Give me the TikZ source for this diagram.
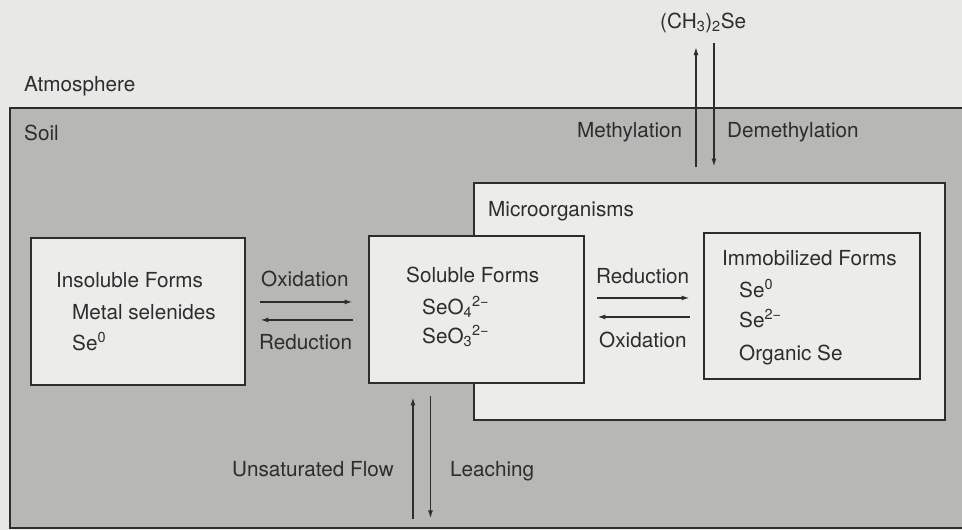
\documentclass[tikz,border=0pt]{standalone}
\usepackage{fontspec}
\setmainfont{TeX Gyre Heros}
\usetikzlibrary{arrows.meta}
\definecolor{paper}{RGB}{232,232,230}
\definecolor{soilgrey}{RGB}{183,183,181}
\definecolor{boxfill}{RGB}{236,236,234}
\definecolor{ink}{RGB}{45,45,45}
\begin{document}
\begin{tikzpicture}[x=1pt,y=-1pt,
  font=\fontsize{20.7}{24}\selectfont,
  region/.style={draw=ink, line width=1.9pt, rectangle, inner sep=0pt, anchor=north west},
  lbl/.style={anchor=base west, inner sep=0pt, text=ink},
  flow/.style={draw=ink, line width=1.7pt, -{Latex[length=8.5pt,width=5pt]}}]
% page
\useasboundingbox (0,0) rectangle (962,530);
\fill[paper] (0,0) rectangle (962,530);
% soil compartment and boxes
\node[region, fill=soilgrey, minimum width=970pt, minimum height=420pt] (soil) at (9,107) {};
\node[region, fill=boxfill, minimum width=471pt, minimum height=237pt] (micro) at (473,182) {};
\node[region, fill=boxfill, minimum width=214pt, minimum height=147pt] (insol) at (30,237) {};
\node[region, fill=boxfill, minimum width=215pt, minimum height=147pt] (sol) at (368,235) {};
\node[region, fill=boxfill, minimum width=216pt, minimum height=146pt] (immob) at (703,232) {};
% compartment labels
\node[lbl] (atm) at (24,91) {Atmosphere};
\node[lbl] (soiltxt) at (24,140) {Soil};
\node[lbl] (microtxt) at (488,216) {Microorganisms};
\node[lbl] (dms) at (660,28) {(CH\textsubscript{3})\textsubscript{2}Se};
% box contents
\node[lbl] (t1) at (56,287) {Insoluble Forms};
\node[lbl] (t2) at (72,319) {Metal selenides};
\node[lbl] (t3) at (72,350) {Se\textsuperscript{0}};
\node[lbl] (s1) at (406,282) {Soluble Forms};
\node[lbl] (s2) at (422,314) {SeO\textsubscript{4}\textsuperscript{2−}};
\node[lbl] (s3) at (422,343) {SeO\textsubscript{3}\textsuperscript{2−}};
\node[lbl] (i1) at (722,265) {Immobilized Forms};
\node[lbl] (i2) at (739,297) {Se\textsuperscript{0}};
\node[lbl] (i3) at (739,327) {Se\textsuperscript{2−}};
\node[lbl] (i4) at (739,360) {Organic Se};
% process labels
\node[lbl] (ox1) at (261,286) {Oxidation};
\node[lbl] (red1) at (259,349) {Reduction};
\node[lbl] (red2) at (596,283) {Reduction};
\node[lbl] (ox2) at (599,347) {Oxidation};
\node[lbl] (meth) at (577,137) {Methylation};
\node[lbl] (demeth) at (727,137) {Demethylation};
\node[lbl] (unsat) at (232,476) {Unsaturated Flow};
\node[lbl] (leach) at (450,476) {Leaching};
% insoluble <-> soluble
\draw[flow, shorten <=14pt, shorten >=15pt] ([yshift=9.5pt]insol.east) -- ([yshift=9.5pt]insol.east -| sol.west);
\draw[flow, shorten <=15pt, shorten >=14pt] ([yshift=-8.5pt]insol.east -| sol.west) -- ([yshift=-8.5pt]insol.east);
% soluble <-> immobilized
\draw[flow, shorten <=12pt, shorten >=13pt] ([yshift=11.5pt]sol.east) -- ([yshift=11.5pt]sol.east -| immob.west);
\draw[flow, shorten <=13pt, shorten >=12pt] ([yshift=-7.5pt]sol.east -| immob.west) -- ([yshift=-7.5pt]sol.east);
% volatilisation to the atmosphere
\draw[flow, shorten <=15pt, shorten >=14pt] ([xshift=-13.5pt]micro.north) -- ([xshift=-13.5pt]micro.north |- dms.south);
\draw[flow, shorten <=10pt, shorten >=15pt] ([xshift=4.5pt]micro.north |- dms.south) -- ([xshift=4.5pt]micro.north);
% exchange with deeper layers
\draw[flow, shorten <=10pt, shorten >=13pt] ([xshift=-63.5pt]sol.south |- soil.south) -- ([xshift=-63.5pt]sol.south);
\draw[flow, shorten <=12pt, shorten >=10pt] ([xshift=-46pt]sol.south) -- ([xshift=-46pt]sol.south |- soil.south);
\end{tikzpicture}
\end{document}
